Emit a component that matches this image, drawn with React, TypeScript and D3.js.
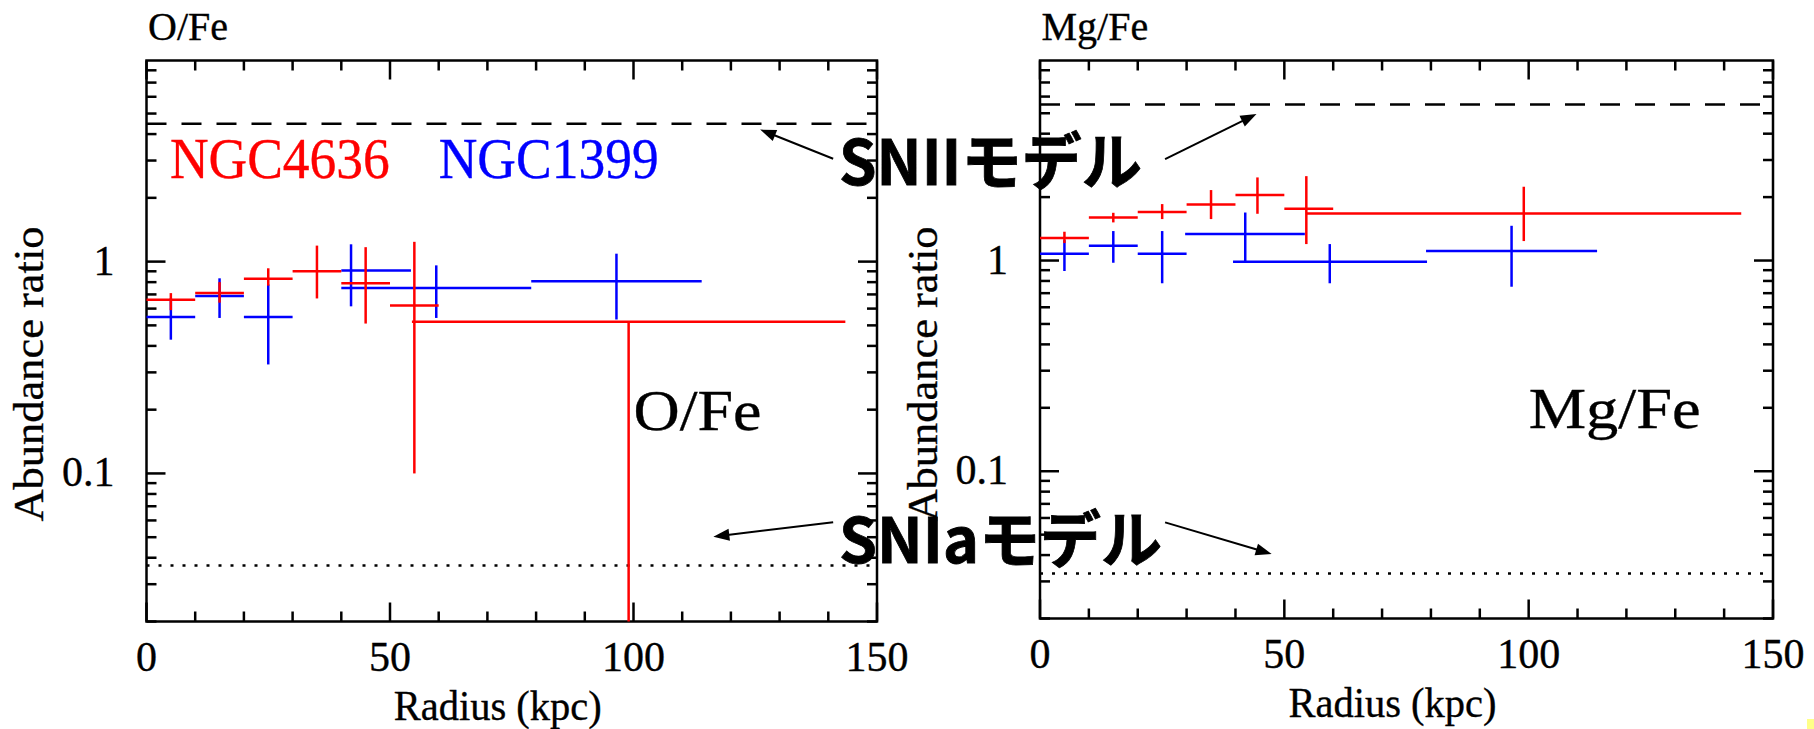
import React from 'react';
import * as d3 from 'd3';

// ---- shared axes ----
const radiusDomain: [number, number] = [0, 150];
const ratioDomain: [number, number] = [0.02, 8.9];
const radiusTickLabels = [0, 50, 100, 150];
const ratioTickLabels = [0.1, 1];

// ---- NGC 4636, O/Fe ----
const oFeRedRadius = [5, 15, 25, 35, 45, 55, 99];
const oFeRedInner = [0, 10, 20, 30, 40, 50, 54.5];
const oFeRedOuter = [10, 20, 30, 40, 50, 60, 143.5];
const oFeRedValue = [0.66, 0.71, 0.83, 0.9, 0.79, 0.62, 0.52];
const oFeRedLow = [0.59, 0.64, 0.77, 0.67, 0.51, 0.1, 0];
const oFeRedHigh = [0.71, 0.8, 0.93, 1.19, 1.17, 1.24, 0.52];

// ---- NGC 1399, O/Fe ----
const oFeBlueRadius = [5, 15, 25, 42, 59.5, 96.5];
const oFeBlueInner = [0, 10, 20, 40, 40, 79];
const oFeBlueOuter = [10, 20, 30, 54.3, 79, 114];
const oFeBlueValue = [0.548, 0.689, 0.548, 0.907, 0.751, 0.808];
const oFeBlueLow = [0.428, 0.542, 0.327, 0.615, 0.542, 0.533];
const oFeBlueHigh = [0.67, 0.834, 0.78, 1.207, 0.96, 1.09];

// ---- NGC 4636, Mg/Fe ----
const mgFeRedRadius = [5, 15, 25, 35, 44.5, 54.5, 99];
const mgFeRedInner = [0, 10, 20, 30, 40, 50, 54.5];
const mgFeRedOuter = [10, 20, 30, 40, 50, 60, 143.5];
const mgFeRedValue = [1.28, 1.6, 1.7, 1.846, 2.044, 1.76, 1.674];
const mgFeRedLow = [1.21, 1.517, 1.573, 1.573, 1.667, 1.197, 1.237];
const mgFeRedHigh = [1.37, 1.685, 1.853, 2.16, 2.48, 2.515, 2.24];

// ---- NGC 1399, Mg/Fe ----
const mgFeBlueRadius = [5, 15, 25, 42, 59.3, 96.5];
const mgFeBlueInner = [0, 10, 20, 29.7, 39.5, 79];
const mgFeBlueOuter = [10, 20, 30, 54.2, 79.2, 114];
const mgFeBlueValue = [1.077, 1.175, 1.077, 1.335, 0.987, 1.109];
const mgFeBlueLow = [0.892, 0.976, 0.78, 0.987, 0.78, 0.751];
const mgFeBlueHigh = [1.25, 1.38, 1.38, 1.69, 1.197, 1.462];

// ---- supernova yield models ----
const snIIModel = { oFe: 4.48, mgFe: 5.5 };
const snIaModel = { oFe: 0.0368, mgFe: 0.0327 };

const RED = '#ff0000';
const BLUE = '#0000ff';
const SERIF: React.CSSProperties = {
  fontFamily: "'Liberation Serif', 'Times New Roman', Times, serif",
  strokeWidth: 0.35,
  paintOrder: 'stroke',
};
const GOTHIC: React.CSSProperties = {
  fontFamily: "'Noto Sans CJK JP', 'Noto Sans', sans-serif",
  fontWeight: 700,
  stroke: '#000',
  strokeWidth: 0.8,
};

type Series = {
  color: string;
  radius: number[];
  inner: number[];
  outer: number[];
  value: number[];
  low: number[];
  high: number[];
};

type Arrow = { from: [number, number]; to: [number, number] };

type PanelProps = {
  title: string;
  x0: number;
  x1: number;
  yTop: number;
  yBot: number;
  series: Series[];
  snII: number;
  snIa: number;
  legend: boolean;
  arrows: Arrow[];
};

function arrowHead(x1: number, y1: number, x2: number, y2: number, len = 16, half = 6) {
  const a = Math.atan2(y2 - y1, x2 - x1);
  const bx = x2 - len * Math.cos(a);
  const by = y2 - len * Math.sin(a);
  const nx = -Math.sin(a) * half;
  const ny = Math.cos(a) * half;
  return `M${x2},${y2}L${bx + nx},${by + ny}L${bx - nx},${by - ny}Z`;
}

function Panel(p: PanelProps) {
  const x = d3.scaleLinear().domain(radiusDomain).range([p.x0, p.x1]);
  const y = d3.scaleLog().domain(ratioDomain).range([p.yBot, p.yTop]);
  const yAt = (v: number) => (v > 0 ? Math.min(y(v), p.yBot) : p.yBot);

  const xTicks = x.ticks(15);
  const yTicks = y.ticks();
  const isMajorY = (t: number) => Math.abs(Math.log10(t) - Math.round(Math.log10(t))) < 1e-9;
  const lw = 2.5;
  const major = 19;
  const minor = 10;
  const cx = (p.x0 + p.x1) / 2 - 14;

  return (
    <g>
      {/* panel title */}
      <text x={p.x0 + 1.5} y={40} style={SERIF} stroke="#000" fontSize={40} fill="#000">
        {p.title}
      </text>

      {/* frame */}
      <rect
        x={p.x0}
        y={p.yTop}
        width={p.x1 - p.x0}
        height={p.yBot - p.yTop}
        fill="none"
        stroke="#000"
        strokeWidth={lw}
      />

      {/* radius ticks, bottom and top */}
      {xTicks.map((t) => {
        const len = t % 50 === 0 ? major : minor;
        const px = x(t);
        return (
          <g key={'xt' + t}>
            <line x1={px} x2={px} y1={p.yBot} y2={p.yBot - len} stroke="#000" strokeWidth={lw} />
            <line x1={px} x2={px} y1={p.yTop} y2={p.yTop + len} stroke="#000" strokeWidth={lw} />
          </g>
        );
      })}

      {/* ratio ticks, left and right */}
      {yTicks.map((t) => {
        const len = isMajorY(t) ? major : minor;
        const py = y(t);
        return (
          <g key={'yt' + t}>
            <line x1={p.x0} x2={p.x0 + len} y1={py} y2={py} stroke="#000" strokeWidth={lw} />
            <line x1={p.x1} x2={p.x1 - len} y1={py} y2={py} stroke="#000" strokeWidth={lw} />
          </g>
        );
      })}

      {/* tick labels */}
      {radiusTickLabels.map((t) => (
        <text
          key={'xl' + t}
          x={x(t)}
          y={p.yBot + 49.5}
          textAnchor="middle"
          style={SERIF}
          stroke="#000"
          fontSize={42}
          fill="#000"
        >
          {t}
        </text>
      ))}
      {ratioTickLabels.map((t) => (
        <text
          key={'yl' + t}
          x={p.x0 - 32}
          y={y(t) + 13}
          textAnchor="end"
          style={SERIF}
          stroke="#000"
          fontSize={42}
          fill="#000"
        >
          {t}
        </text>
      ))}

      {/* axis titles */}
      <text
        x={cx}
        y={p.yBot + 98}
        textAnchor="middle"
        style={SERIF}
        stroke="#000"
        fontSize={42}
        textLength={208}
        lengthAdjust="spacingAndGlyphs"
        fill="#000"
      >
        Radius (kpc)
      </text>
      <text
        transform={`translate(${p.x0 - 103.5},374) rotate(-90)`}
        textAnchor="middle"
        style={SERIF}
        stroke="#000"
        fontSize={43}
        textLength={295}
        lengthAdjust="spacingAndGlyphs"
        fill="#000"
      >
        Abundance ratio
      </text>

      {/* SN model levels */}
      <line
        x1={p.x0}
        x2={p.x1}
        y1={y(p.snII)}
        y2={y(p.snII)}
        stroke="#000"
        strokeWidth={2.5}
        strokeDasharray="20,15"
      />
      <line
        x1={p.x0}
        x2={p.x1}
        y1={y(p.snIa)}
        y2={y(p.snIa)}
        stroke="#000"
        strokeWidth={2.5}
        strokeDasharray="3,9"
      />

      {/* large element label inside the frame */}
      <text
        x={x(100)}
        y={y(0.16)}
        style={SERIF}
        stroke="#000"
        fontSize={58}
        textLength={p.title === 'O/Fe' ? 128 : 172}
        lengthAdjust="spacingAndGlyphs"
        fill="#000"
      >
        {p.title}
      </text>

      {/* galaxy legend */}
      {p.legend && (
        <g style={SERIF} fontSize={57}>
          <text
            x={x(4.8)}
            y={y(2.48)}
            fill={RED}
            stroke={RED}
            textLength={220}
            lengthAdjust="spacingAndGlyphs"
          >
            NGC4636
          </text>
          <text
            x={x(60)}
            y={y(2.48)}
            fill={BLUE}
            stroke={BLUE}
            textLength={220}
            lengthAdjust="spacingAndGlyphs"
          >
            NGC1399
          </text>
        </g>
      )}

      {/* radial profiles with error crosses */}
      {p.series.map((s, si) => (
        <g key={'s' + si} stroke={s.color} strokeWidth={2.5}>
          {s.radius.map((r, i) => (
            <g key={i}>
              <line x1={x(s.inner[i])} x2={x(s.outer[i])} y1={y(s.value[i])} y2={y(s.value[i])} />
              <line x1={x(r)} x2={x(r)} y1={yAt(s.low[i])} y2={yAt(s.high[i])} />
            </g>
          ))}
        </g>
      ))}

      {/* pointers from the model labels */}
      {p.arrows.map((a, i) => {
        const fx = x(a.from[0]);
        const fy = y(a.from[1]);
        const tx = x(a.to[0]);
        const ty = y(a.to[1]);
        const ang = Math.atan2(ty - fy, tx - fx);
        return (
          <g key={'ar' + i}>
            <line
              x1={fx}
              y1={fy}
              x2={tx - 12 * Math.cos(ang)}
              y2={ty - 12 * Math.sin(ang)}
              stroke="#000"
              strokeWidth={2}
            />
            <path d={arrowHead(fx, fy, tx, ty)} fill="#000" />
          </g>
        );
      })}
    </g>
  );
}

export default function App() {
  const oFeSeries: Series[] = [
    {
      color: BLUE,
      radius: oFeBlueRadius,
      inner: oFeBlueInner,
      outer: oFeBlueOuter,
      value: oFeBlueValue,
      low: oFeBlueLow,
      high: oFeBlueHigh,
    },
    {
      color: RED,
      radius: oFeRedRadius,
      inner: oFeRedInner,
      outer: oFeRedOuter,
      value: oFeRedValue,
      low: oFeRedLow,
      high: oFeRedHigh,
    },
  ];
  const mgFeSeries: Series[] = [
    {
      color: BLUE,
      radius: mgFeBlueRadius,
      inner: mgFeBlueInner,
      outer: mgFeBlueOuter,
      value: mgFeBlueValue,
      low: mgFeBlueLow,
      high: mgFeBlueHigh,
    },
    {
      color: RED,
      radius: mgFeRedRadius,
      inner: mgFeRedInner,
      outer: mgFeRedOuter,
      value: mgFeRedValue,
      low: mgFeRedLow,
      high: mgFeRedHigh,
    },
  ];

  return (
    <svg
      width={1814}
      height={729}
      viewBox="0 0 1814 729"
      style={{ position: 'absolute', left: 0, top: 0, background: '#fff' }}
    >
      <rect x={0} y={0} width={1814} height={729} fill="#fff" />
      <Panel
        title="O/Fe"
        x0={146.5}
        x1={877}
        yTop={60.5}
        yBot={621.5}
        series={oFeSeries}
        snII={snIIModel.oFe}
        snIa={snIaModel.oFe}
        legend={true}
        arrows={[
          { from: [141, 3.06], to: [126, 4.2] },
          { from: [141, 0.0589], to: [116.4, 0.0503] },
        ]}
      />
      <Panel
        title="Mg/Fe"
        x0={1040}
        x1={1773}
        yTop={60.5}
        yBot={618.5}
        series={mgFeSeries}
        snII={snIIModel.mgFe}
        snIa={snIaModel.mgFe}
        legend={false}
        arrows={[
          { from: [25.6, 3.03], to: [44.3, 4.96] },
          { from: [25.6, 0.0572], to: [47.4, 0.0405] },
        ]}
      />

      {/* model captions spanning the two panels */}
      <text
        x={839}
        y={185}
        style={GOTHIC}
        fontSize={62}
        textLength={303}
        lengthAdjust="spacingAndGlyphs"
        fill="#000"
      >
        SNIIモデル
      </text>
      <text
        x={839}
        y={563}
        style={GOTHIC}
        fontSize={62}
        textLength={323}
        lengthAdjust="spacingAndGlyphs"
        fill="#000"
      >
        SNIaモデル
      </text>

      <rect x={1807} y={719} width={7} height={10} fill="#ffff88" />
    </svg>
  );
}
